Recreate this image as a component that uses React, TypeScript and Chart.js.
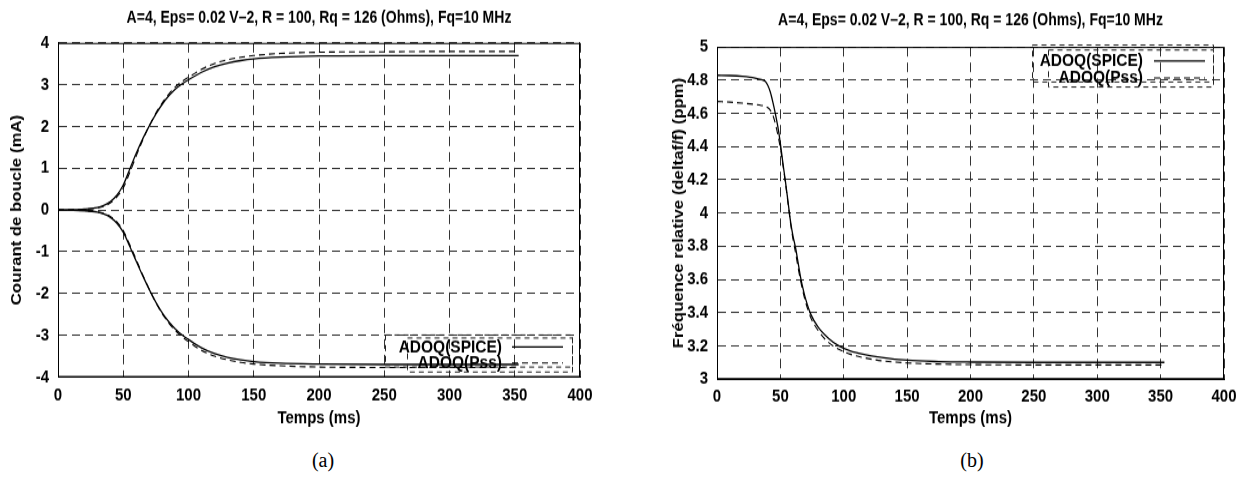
import React, { useEffect, useRef } from 'react';
import { Chart, registerables } from 'chart.js';

Chart.register(...registerables);

const FONT = '"Liberation Sans", Arial, Helvetica, sans-serif';

const titleText = 'A=4, Eps= 0.02 V\u20132, R = 100, Rq = 126 (Ohms), Fq=10 MHz';
const seriesNames = ['ADOQ(SPICE)', 'ADOQ(Pss)'];
const xAxisTitle = 'Temps (ms)';
const yTitleA = 'Courant de boucle (mA)';
const yTitleB = 'Fr\u00e9quence relative (deltaf/f) (ppm)';
const panelLabels = ['(a)', '(b)'];

// Panel (a): loop current (mA) vs time (ms)
const timeA = [0, 10, 20, 30, 35, 40, 45, 50, 55, 60, 65, 70, 75, 80, 85, 90, 95, 100, 110, 120, 130, 140, 150, 170, 200, 250, 300, 353];
const spiceUpper = [0, 0.005, 0.02, 0.06, 0.11, 0.2, 0.35, 0.6, 0.98, 1.36, 1.71, 2.02, 2.3, 2.54, 2.74, 2.9, 3.02, 3.12, 3.3, 3.43, 3.52, 3.58, 3.62, 3.66, 3.69, 3.7, 3.7, 3.7];
const pssUpper = [0, 0.005, 0.02, 0.05, 0.09, 0.17, 0.31, 0.53, 0.9, 1.3, 1.68, 2.02, 2.32, 2.57, 2.78, 2.95, 3.08, 3.18, 3.37, 3.51, 3.6, 3.66, 3.7, 3.75, 3.78, 3.79, 3.8, 3.8];
const spiceLower = [0, -0.004, -0.016, -0.05, -0.09, -0.17, -0.31, -0.53, -0.87, -1.23, -1.58, -1.91, -2.21, -2.47, -2.68, -2.85, -2.99, -3.1, -3.3, -3.44, -3.53, -3.59, -3.63, -3.67, -3.69, -3.7, -3.7, -3.7];
const pssLower = [0, -0.004, -0.015, -0.045, -0.08, -0.15, -0.28, -0.49, -0.83, -1.19, -1.56, -1.9, -2.22, -2.49, -2.71, -2.89, -3.03, -3.15, -3.36, -3.5, -3.59, -3.65, -3.69, -3.73, -3.76, -3.77, -3.77, -3.77];

// Panel (b): relative frequency (ppm) vs time (ms)
const timeB = [0, 10, 20, 30, 35, 38, 40, 42, 44, 46, 48, 50, 52, 54, 56, 58, 60, 62, 64, 66, 68, 70, 74, 80, 88, 96, 105, 115, 130, 150, 175, 200, 250, 300, 353];
const spiceFreq = [4.83, 4.828, 4.823, 4.813, 4.803, 4.793, 4.77, 4.73, 4.67, 4.6, 4.52, 4.42, 4.3, 4.19, 4.07, 3.95, 3.86, 3.79, 3.7, 3.61, 3.54, 3.48, 3.39, 3.31, 3.245, 3.2, 3.17, 3.15, 3.13, 3.113, 3.105, 3.102, 3.1, 3.1, 3.1];
const pssFreq = [4.672, 4.668, 4.662, 4.654, 4.648, 4.643, 4.635, 4.62, 4.59, 4.54, 4.47, 4.39, 4.29, 4.18, 4.06, 3.94, 3.84, 3.76, 3.67, 3.59, 3.52, 3.46, 3.37, 3.29, 3.22, 3.18, 3.15, 3.13, 3.11, 3.097, 3.09, 3.087, 3.085, 3.085, 3.085];

const pts = (xs: number[], ys: number[]) => xs.map((x, i) => ({ x, y: ys[i] }));

// The original figure is slightly stretched vertically: the canvas is drawn
// at a reduced height and displayed at full height.
const CSS_H = 440;
const DRAW_H = 367;
const S = CSS_H / DRAW_H;
const v = (y: number) => y / S;

const framePlugin = {
  id: 'frame',
  afterDraw(chart: any, _args: any, opts: any) {
    const { ctx, chartArea: a } = chart;
    ctx.save();
    ctx.setLineDash([]);
    ctx.strokeStyle = '#000';
    ctx.lineWidth = 1;
    ctx.strokeRect(a.left + 0.5, a.top + 0.4, a.right - a.left - 1, a.bottom - a.top - 0.8);
    ctx.fillStyle = '#000';
    ctx.font = `bold ${opts.titleSize}px ${FONT}`;
    ctx.textAlign = 'center';
    ctx.textBaseline = 'middle';
    ctx.fillText(opts.title, (a.left + a.right) / 2, v(opts.titleY));
    // key boxes
    const k = opts.key;
    ctx.strokeStyle = '#222';
    ctx.lineWidth = 1;
    ctx.setLineDash([5, 4]);
    for (const r of k.boxes) {
      ctx.strokeRect(r[0] + 0.5, v(r[1]), r[2] - r[0], v(r[3]) - v(r[1]));
    }
    ctx.font = `bold ${k.size}px ${FONT}`;
    ctx.textAlign = 'right';
    k.rows.forEach((row: number, i: number) => {
      const y = v(row);
      ctx.setLineDash([]);
      ctx.fillStyle = '#000';
      ctx.fillText(seriesNames[i], k.textRight, y);
      ctx.setLineDash(i === 0 ? [] : [6, 4]);
      ctx.strokeStyle = '#000';
      ctx.lineWidth = i === 0 ? 1.3 : 1.1;
      ctx.beginPath();
      ctx.moveTo(k.lineFrom, y);
      ctx.lineTo(k.lineTo, y);
      ctx.stroke();
    });
    ctx.restore();
  },
};

const tickFont = { family: FONT, size: 15, weight: 'bold' as const };
const xTitleFont = { family: FONT, size: 15, weight: 'bold' as const };
const yTitleFont = { family: FONT, size: 14, weight: 'bold' as const };

function Panel(props: any) {
  const ref = useRef<HTMLCanvasElement>(null);
  useEffect(() => {
    const p = props;
    const chart = new Chart(ref.current as HTMLCanvasElement, {
      type: 'scatter',
      data: { datasets: p.datasets },
      options: {
        animation: false,
        responsive: false,
        events: [],
        layout: {
          padding: {
            left: 0,
            right: p.w - p.area.right,
            top: v(p.area.top),
            bottom: DRAW_H - v(p.area.bottom) - v(60),
          },
        },
        elements: { point: { radius: 0 } },
        plugins: {
          legend: { display: false },
          tooltip: { enabled: false },
          frame: p.frame,
        } as any,
        scales: {
          x: {
            type: 'linear',
            min: 0,
            max: 400,
            ticks: { stepSize: 50, color: '#000', font: tickFont, padding: 6, maxRotation: 0 },
            grid: { color: '#333', lineWidth: 1, drawTicks: false },
            border: { display: true, color: '#000', width: 1, dash: [8, 5] },
            title: { display: true, text: xAxisTitle, color: '#000', font: xTitleFont, padding: { top: 0, bottom: p.xTitlePad } },
            afterFit: (s: any) => { s.height = v(60); },
          },
          y: {
            type: 'linear',
            min: p.yMin,
            max: p.yMax,
            ticks: {
              stepSize: p.yStep,
              color: '#000',
              font: tickFont,
              padding: 9,
              callback: (val: any) => String(Math.round(Number(val) * 10) / 10),
            },
            grid: { color: '#333', lineWidth: 1, drawTicks: false },
            border: { display: true, color: '#000', width: 1, dash: [8, 5] },
            title: { display: true, text: p.yTitle, color: '#000', font: yTitleFont, padding: { top: p.yTitlePad, bottom: 0 } },
            afterFit: (s: any) => { s.width = p.area.left; },
          },
        },
      },
      plugins: [framePlugin],
    } as any);
    return () => chart.destroy();
  }, []);
  return (
    <canvas
      ref={ref}
      width={props.w}
      height={DRAW_H}
      style={{ position: 'absolute', left: props.x, top: 0, width: props.w, height: CSS_H, display: 'block' }}
    />
  );
}

const solid = (label: string, data: any[]) => ({
  label, data, showLine: true, borderColor: '#000', borderWidth: 1.3, pointRadius: 0,
  cubicInterpolationMode: 'monotone', fill: false,
});
const dashed = (label: string, data: any[]) => ({
  label, data, showLine: true, borderColor: '#000', borderWidth: 1.1, borderDash: [6, 4], pointRadius: 0,
  cubicInterpolationMode: 'monotone', fill: false,
});

export default function App() {
  const datasetsA = [
    solid(seriesNames[0], pts(timeA, spiceUpper)),
    solid(seriesNames[0], pts(timeA, spiceLower)),
    dashed(seriesNames[1], pts(timeA, pssUpper)),
    dashed(seriesNames[1], pts(timeA, pssLower)),
  ];
  const datasetsB = [
    solid(seriesNames[0], pts(timeB, spiceFreq)),
    dashed(seriesNames[1], pts(timeB, pssFreq)),
  ];
  return (
    <div style={{ position: 'absolute', left: 0, top: 0, width: 1244, height: 486, background: '#fff', overflow: 'hidden' }}>
      <Panel
        x={0} w={620}
        area={{ left: 58, right: 580, top: 43, bottom: 377 }}
        yMin={-4} yMax={4} yStep={1}
        yTitle={yTitleA} yTitlePad={9} xTitlePad={7}
        datasets={datasetsA}
        frame={{
          title: titleText, titleSize: 14, titleY: 18,
          key: {
            size: 15.5,
            boxes: [[385, 335, 572, 367], [407, 338, 572, 372]],
            rows: [347, 363], textRight: 502, lineFrom: 512, lineTo: 563,
          },
        }}
      />
      <Panel
        x={630} w={614}
        area={{ left: 87, right: 594, top: 47, bottom: 379 }}
        yMin={3} yMax={5} yStep={0.2}
        yTitle={yTitleB} yTitlePad={41} xTitlePad={8}
        datasets={datasetsB}
        frame={{
          title: titleText, titleSize: 14, titleY: 21,
          key: {
            size: 15.5,
            boxes: [[402, 45, 583, 82], [418, 50, 583, 87]],
            rows: [61, 78], textRight: 513, lineFrom: 524, lineTo: 575,
          },
        }}
      />
      <div style={{ position: 'absolute', left: 273, width: 100, top: 449, textAlign: 'center', font: '20px "Liberation Serif", "Times New Roman", serif', color: '#000' }}>{panelLabels[0]}</div>
      <div style={{ position: 'absolute', left: 922, width: 100, top: 449, textAlign: 'center', font: '20px "Liberation Serif", "Times New Roman", serif', color: '#000' }}>{panelLabels[1]}</div>
    </div>
  );
}
